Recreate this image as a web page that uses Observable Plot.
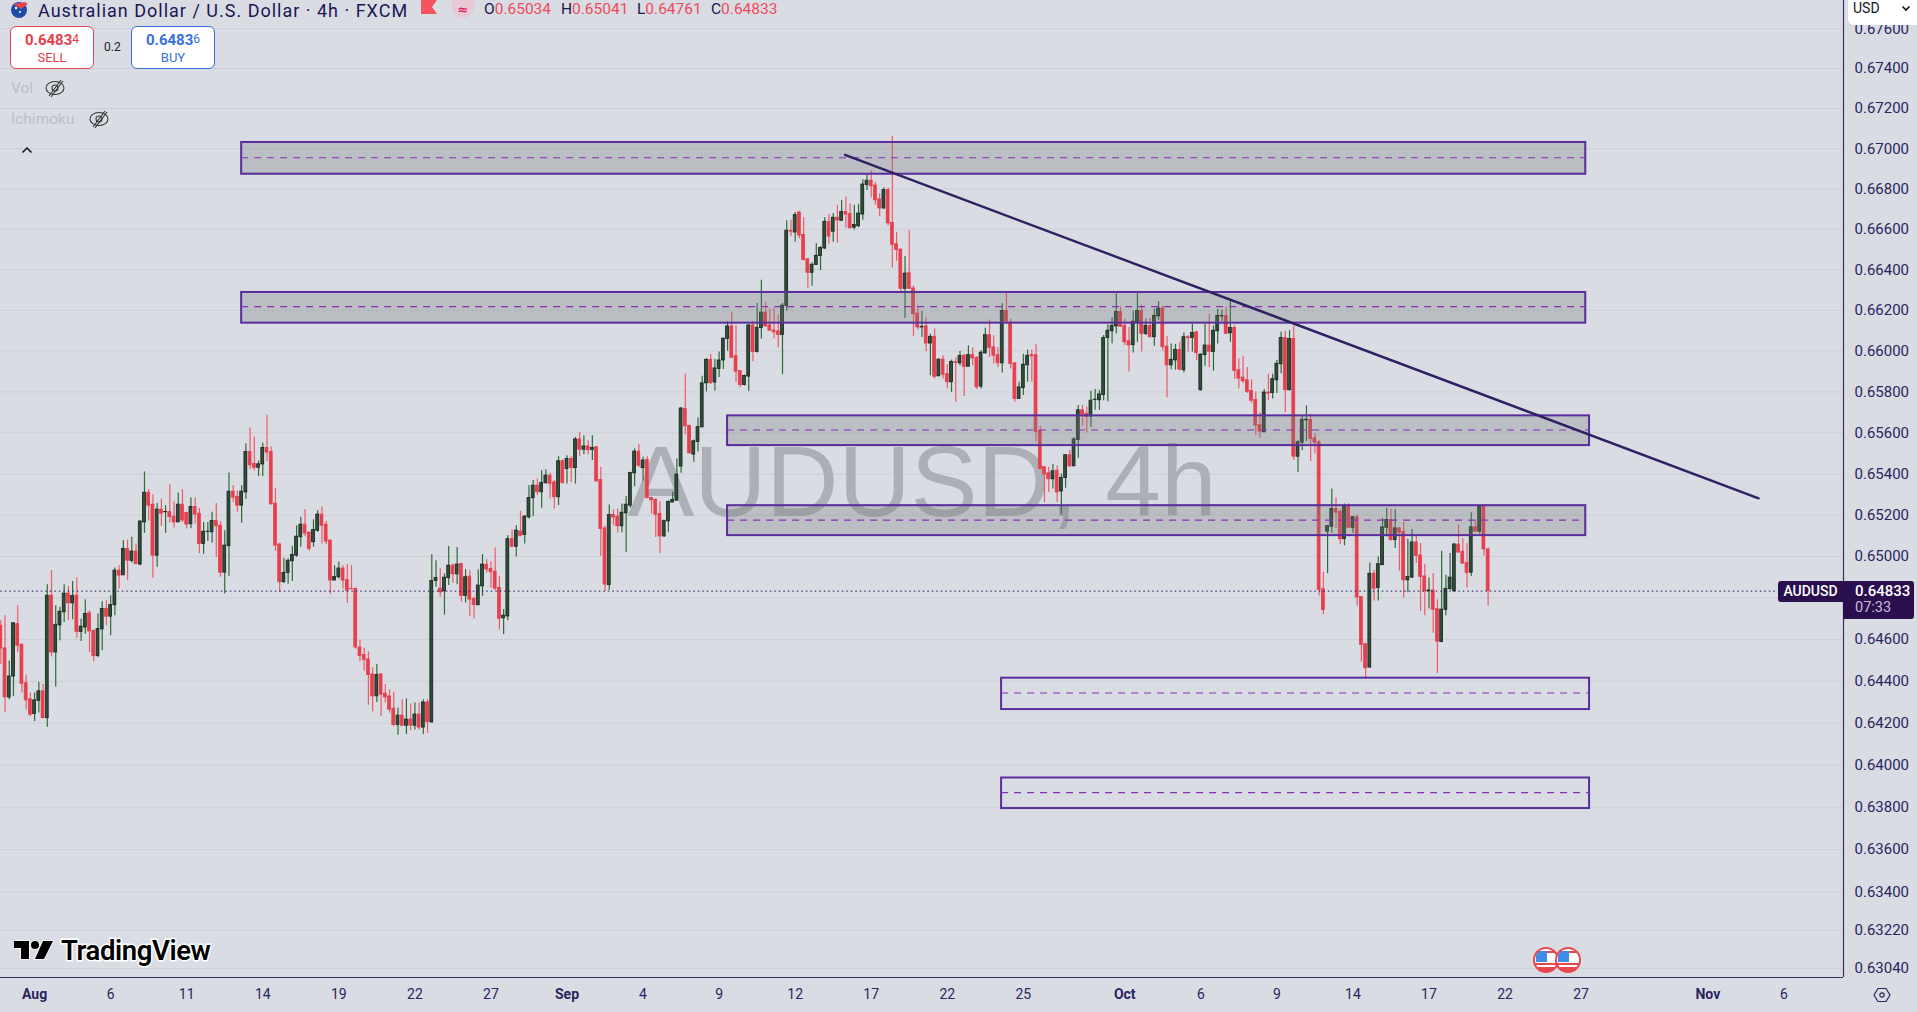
<!DOCTYPE html>
<html><head><meta charset="utf-8">
<script src="https://cdn.jsdelivr.net/npm/d3@7"></script>
<script src="https://cdn.jsdelivr.net/npm/@observablehq/plot@0.6"></script>
<style>
html,body{margin:0;padding:0;background:#d9dce3;overflow:hidden}
#wrap{position:relative;width:1917px;height:1012px;font-family:Roboto,sans-serif;overflow:hidden}
#wrap svg{display:block}
.o{position:absolute;white-space:nowrap;line-height:1}
.box{position:absolute;box-sizing:border-box;background:#fff;border-radius:6px;text-align:center}
sup{font-size:.8em;font-weight:400;line-height:0;vertical-align:.2em}
</style></head><body>
<div id="wrap"></div>
<script>
// prices in units of 0.00001
const opens=[64666,64558,64323,64423,64674,64575,64391,64314,64243,64306,
64352,64224,64811,64538,64668,64731,64821,64774,64811,64637,
64658,64726,64642,64521,64649,64747,64710,64765,64932,64909,
65037,64979,65024,64961,65165,65309,65251,65004,65227,65214,
65215,65193,65165,65251,65211,65156,65240,65207,65061,65119,
65117,65172,65149,64922,65050,65314,65289,65246,65310,65507,
65449,65430,65446,65526,65507,65256,65058,64876,64921,64977,
65004,65093,65154,65116,65069,65125,65203,65154,65077,64884,
64900,64942,64887,64843,64843,64562,64526,64505,64433,64328,
64433,64341,64328,64269,64191,64236,64188,64217,64188,64241,
64179,64299,64204,64882,64845,64832,64895,64956,64914,64964,
64810,64903,64795,64765,64856,64961,64940,64927,64848,64702,
64711,65084,65047,65121,65104,65189,65282,65343,65311,65355,
65392,65359,65287,65462,65424,65473,65428,65568,65518,65534,
65517,65530,65371,65136,64862,65201,65193,65146,65209,65246,
65403,65509,65428,65468,65283,65275,65206,65097,65170,65261,
65270,65436,65716,65635,65494,65556,65627,65842,65956,65846,
65912,65954,66059,66121,65975,65902,65834,65875,66126,65996,
66113,66189,66126,66101,66097,66079,66222,66593,66584,66683,
66572,66452,66385,66424,66468,66505,66637,66588,66657,66642,
66686,66676,66608,66615,66673,66820,66841,66817,66748,66703,
66794,66632,66526,66500,66306,66383,66308,66184,66116,66121,
66037,66070,65876,65958,65888,65847,65945,65940,65977,65923,
65980,65967,65826,65989,66078,66018,65980,65940,66197,66139,
65940,65765,65819,65930,65980,65980,65609,65433,65403,65374,
65416,65315,65380,65491,65437,65565,65710,65693,65680,65760,
65759,65784,66064,66097,66121,66192,66124,66048,66029,66140,
66197,66084,66124,66068,66170,66209,66022,65930,65954,66006,
65906,66068,66064,66092,65808,65980,66027,65996,66097,66170,
66173,66087,66113,65906,65870,65857,65804,65760,65638,65603,
65797,65794,65857,65935,66064,65808,66059,65484,65552,65661,
65663,65573,65554,64842,65120,65144,65230,65215,65084,65241,
65139,65190,64805,64578,64466,64917,64848,64958,65139,65177,
65079,65136,65118,64885,64898,65068,65005,64904,64833,64836,
64746,64588,64743,64843,64832,65058,65023,64969,64922,65141,
65120,65245,65034];
const highs=[64691,64715,64497,64682,64763,64581,64430,64343,64344,64396,
64385,64864,64932,64763,64755,64864,64855,64879,64898,64699,
64792,64739,64645,64723,64782,64787,64811,64945,64956,65077,
65080,65093,65061,65174,65410,65325,65299,65257,65278,65246,
65347,65265,65307,65323,65214,65283,65283,65233,65164,65165,
65214,65257,65169,65125,65405,65343,65318,65343,65547,65624,
65579,65463,65550,65686,65531,65331,65064,64992,64988,65050,
65148,65190,65227,65119,65177,65222,65241,65170,65080,64956,
64974,64956,64961,64956,64848,64597,64558,64541,64465,64481,
64436,64385,64360,64348,64272,64312,64315,64291,64296,64296,
64312,64312,65009,64980,64940,64916,65048,64964,65043,64967,
64937,64932,64803,64935,65009,64984,64975,65041,64903,64744,
65100,65128,65149,65219,65198,65343,65368,65376,65416,65421,
65403,65368,65484,65468,65489,65484,65578,65601,65586,65562,
65586,65533,65432,65147,65249,65225,65230,65254,65290,65408,
65521,65543,65481,65484,65287,65278,65266,65173,65270,65311,
65473,65724,65886,65635,65565,65672,65876,65964,65983,65959,
65996,66064,66145,66191,66126,65902,65883,66129,66145,66234,
66348,66239,66207,66210,66178,66234,66642,66645,66683,66689,
66657,66455,66434,66528,66515,66657,66673,66678,66719,66743,
66760,66727,66719,66724,66846,66877,66890,66833,66776,66805,
66804,67061,66584,66500,66466,66593,66319,66222,66194,66165,
66083,66108,65961,65977,65933,65956,65966,65998,65985,66026,
66015,65972,66002,66112,66153,66075,66018,66233,66282,66156,
65940,65847,65985,66005,66005,66034,65631,65436,65433,65446,
65439,65400,65495,65514,65576,65734,65734,65726,65803,65812,
65808,66076,66129,66165,66281,66217,66157,66116,66197,66283,
66226,66157,66160,66205,66243,66221,66071,66035,66032,66043,
66089,66076,66132,66097,65987,66132,66181,66124,66205,66200,
66217,66246,66124,65962,65974,65919,65860,65800,65698,65812,
65886,65886,65954,66092,66097,66100,66124,65562,65682,65731,
65690,65595,65561,64924,65147,65327,65285,65228,65254,65254,
65193,65201,64805,64582,64969,64934,64998,65185,65233,65228,
65228,65141,65164,65083,65131,65104,65063,64961,64896,64917,
64791,65026,64909,65015,65063,65152,65087,65063,65212,65177,
65246,65245,65041];
const lows=[64481,64251,64312,64328,64538,64344,64264,64232,64208,64248,
64220,64180,64517,64373,64594,64682,64691,64695,64607,64591,
64626,64538,64494,64513,64546,64666,64618,64715,64843,64908,
64884,64969,64961,64956,65112,65170,64895,64948,65145,65112,
65161,65138,65164,65165,65133,65135,65157,65013,65011,65072,
65064,64996,64900,64819,64905,65262,65214,65161,65277,65420,
65415,65388,65388,65460,65251,65025,64827,64871,64866,64880,
64996,65045,65096,65025,65045,65117,65061,65058,64818,64884,
64892,64843,64774,64840,64554,64494,64449,64285,64253,64299,
64232,64296,64248,64183,64142,64183,64146,64164,64167,64167,
64146,64151,64199,64852,64803,64718,64860,64871,64864,64779,
64776,64711,64700,64765,64808,64919,64847,64835,64647,64625,
64690,65044,64998,65095,65060,65181,65194,65295,65233,65351,
65279,65230,65246,65351,65351,65359,65351,65484,65494,65492,
65465,65359,65000,64830,64836,65149,65112,65115,65019,65235,
65338,65432,65364,65278,65206,65092,65014,65092,65117,65261,
65270,65403,65591,65497,65457,65507,65624,65800,65837,65805,
65870,65910,65999,65964,65846,65821,65829,65802,65948,65991,
66059,66116,66097,66061,66016,65884,66197,66564,66536,66553,
66442,66308,66319,66422,66396,66499,66526,66536,66531,66641,
66605,66600,66597,66608,66645,66792,66755,66719,66662,66699,
66618,66409,66442,66287,66161,66303,66070,66103,66067,65998,
65879,65863,65876,65863,65817,65798,65749,65928,65778,65923,
65928,65811,65814,65985,65969,65936,65920,65892,66140,65912,
65749,65764,65782,65847,65847,65555,65420,65261,65310,65327,
65261,65204,65330,65433,65436,65477,65633,65599,65628,65710,
65710,65757,65752,66035,66084,66116,66027,65897,65990,66043,
65995,66076,66064,66024,66149,66000,65771,65909,65906,65902,
65893,65995,65995,65954,65805,65925,65919,65902,66035,66145,
66081,66043,65860,65816,65841,65792,65744,65586,65573,65601,
65757,65765,65792,65889,65698,65805,65465,65407,65514,65557,
65460,65497,64810,64718,64917,65112,65136,65058,65052,65136,
65112,64760,64491,64410,64462,64785,64785,64958,65096,65075,
65039,64930,64801,64825,64895,64966,64736,64715,64747,64630,
64438,64585,64715,64836,64828,65015,64961,64848,64904,65117,
65109,65003,64761];
const closes=[64557,64323,64423,64678,64570,64388,64309,64240,64309,64352,
64224,64811,64538,64671,64734,64821,64774,64810,64637,64662,
64723,64639,64521,64650,64747,64710,64766,64932,64908,65037,
64980,65024,64963,65169,65309,65246,65004,65227,65207,65215,
65190,65165,65251,65174,65154,65240,65203,65061,65120,65120,
65172,65146,64922,65053,65314,65285,65246,65314,65507,65442,
65430,65447,65526,65504,65252,65053,64876,64921,64980,65008,
65096,65154,65111,65037,65128,65203,65149,65072,64884,64901,
64942,64884,64835,64842,64562,64521,64502,64430,64328,64430,
64336,64323,64264,64191,64236,64188,64217,64188,64241,64179,
64299,64204,64882,64897,64827,64898,64956,64914,64961,64810,
64900,64792,64766,64860,64961,64937,64924,64845,64700,64715,
65084,65047,65125,65100,65193,65283,65343,65311,65356,65392,
65351,65287,65462,65355,65473,65429,65568,65518,65534,65515,
65526,65364,65133,64865,65201,65189,65146,65212,65251,65405,
65509,65440,65465,65283,65272,65202,65097,65173,65264,65274,
65397,65719,65632,65500,65559,65628,65842,65956,65842,65915,
65954,66061,66121,65967,65899,65833,65878,66126,65996,66114,
66189,66121,66100,66092,66079,66223,66593,66588,66670,66569,
66448,66385,66425,66469,66507,66637,66564,66657,66644,66686,
66673,66605,66621,66678,66822,66841,66813,66743,66703,66794,
66629,66523,66497,66306,66381,66306,66181,66116,66119,66037,
66070,65874,65958,65884,65847,65946,65941,65976,65923,65980,
65964,65822,65992,66078,66015,65977,65940,66197,66145,65936,
65765,65822,65933,65977,65974,65604,65424,65397,65374,65413,
65310,65380,65491,65437,65568,65710,65690,65677,65757,65762,
65788,66064,66100,66124,66192,66119,66043,66027,66144,66197,
66084,66124,66068,66173,66209,66019,65930,65957,66006,65909,
66068,66063,66089,65990,65983,66027,65996,66100,66173,66173,
66084,66113,65902,65865,65852,65800,65757,65635,65606,65797,
65792,65862,65938,66064,65808,66059,65484,65554,65663,65664,
65570,65552,64838,64742,65147,65230,65212,65083,65241,65139,
65190,64802,64574,64462,64917,64844,64963,65141,65177,65079,
65136,65115,64885,64901,65068,65002,64901,64832,64836,64743,
64590,64744,64844,64898,65058,65019,64966,64921,65141,65120,
65245,65034,64833];
const tickBars=[8,26,44,62,80,98,116,134,152,170,188,206,224,242,266,284,302,320,338,356,374,404,422];
const tickLabels=["Aug","6","11","14","19","22","27","Sep","4","9","12","17","22","25","Oct","6","9","14","17","22","27","Nov","6"];
const monthLabels=["Aug","Sep","Oct","Nov"];
const priceTicks=[0.676,0.674,0.672,0.670,0.668,0.666,0.664,0.662,0.660,0.658,0.656,0.654,0.652,0.650,0.646,0.644,0.642,0.640,0.638,0.636,0.634,0.6322,0.6304];
const gridTicks=[0.676,0.674,0.672,0.670,0.668,0.666,0.664,0.662,0.660,0.658,0.656,0.654,0.652,0.650,0.648,0.646,0.644,0.642,0.640,0.638,0.636,0.634,0.6322,0.6304];
const zoneStart=[57,57,172,172,236.85,236.85];
const zoneEnd=[375.1,375.1,376,375.1,376,376];
const zoneTop=[67031,66288,65683,65246,64415,63939];
const zoneBottom=[66873,66137,65538,65101,64265,63794];
const zoneMid=[66955,66218,65614,65176,64344,63869];
const zoneFilled=[true,true,true,true,false,false];
const trendBars=[199.8,416];
const trendPrices=[66969,65282];
const lastPrice=0.64833;

const P=v=>v/1e5;
const candles=opens.map((o,k)=>({k,o:P(o),h:P(highs[k]),l:P(lows[k]),c:P(closes[k]),up:closes[k]>=o}));
const ups=candles.filter(d=>d.up), downs=candles.filter(d=>!d.up);
const zones=zoneStart.map((s,i)=>({s,e:zoneEnd[i],t:P(zoneTop[i]),b:P(zoneBottom[i]),m:P(zoneMid[i]),f:zoneFilled[i]}));
const trend=trendBars.map((x,i)=>({x,y:P(trendPrices[i])}));
const tick=new Map(tickBars.map((b,i)=>[b,tickLabels[i]]));
const INK="#2a2560";

const chart=Plot.plot({
  width:1917,height:1012,marginLeft:0,marginRight:74,marginTop:0,marginBottom:35,
  style:{background:"transparent",fontFamily:"Roboto,sans-serif"},
  x:{type:"linear",domain:[0,436.1],range:[0.3,1843]},
  y:{type:"log",domain:[0.62998,0.67742],range:[977,0]},
  marks:[
    Plot.gridY(gridTicks,{stroke:"#cdd0d6",strokeOpacity:1,strokeWidth:1}),
    Plot.text(["AUDUSD, 4h"],{x:148.3,y:P(65198),fontSize:100,fontFamily:"Liberation Sans",fill:"#adafb7",textAnchor:"start",lineAnchor:"bottom"}),
    Plot.ruleX(ups,{x:"k",y1:"l",y2:"h",stroke:"#2e6b38",strokeWidth:1.2}),
    Plot.ruleX(downs,{x:"k",y1:"l",y2:"h",stroke:"#ee5a68",strokeWidth:1.2}),
    Plot.rect(ups,{x1:d=>d.k-.34,x2:d=>d.k+.34,y1:"o",y2:"c",fill:"#2f4d3a",stroke:"#16241b",strokeWidth:.8}),
    Plot.rect(downs,{x1:d=>d.k-.34,x2:d=>d.k+.34,y1:"o",y2:"c",fill:"#e63f4e",stroke:"#e63f4e",strokeWidth:.8}),
    Plot.ruleY([lastPrice],{x1:0,x2:420.7,stroke:"#1e1450",strokeWidth:1,strokeDasharray:"1.5,3"}),
    Plot.rect(zones,{x1:"s",x2:"e",y1:"b",y2:"t",fill:d=>d.f?"rgb(120,122,120)":"none",fillOpacity:.3,stroke:"#5a2d9c",strokeWidth:2}),
    Plot.ruleY(zones,{x1:"s",x2:"e",y:"m",stroke:"#8a2fb5",strokeWidth:1.2,strokeDasharray:"7,6"}),
    Plot.line(trend,{x:"x",y:"y",stroke:"#2f1f63",strokeWidth:2.4}),
    Plot.ruleX([436.1],{stroke:"#35305f",strokeWidth:1.2}),
    Plot.ruleY([0.62998],{stroke:"#35305f",strokeWidth:1.2}),
    Plot.axisY({anchor:"right",ticks:priceTicks,tickSize:0,tickPadding:11,fontSize:15,color:INK,label:null,tickFormat:d=>d.toFixed(5)}),
    Plot.axisX({ticks:tickBars.filter(b=>!monthLabels.includes(tick.get(b))),tickSize:0,tickPadding:12,fontSize:14,color:INK,label:null,tickFormat:b=>tick.get(b)}),
    Plot.axisX({ticks:tickBars.filter(b=>monthLabels.includes(tick.get(b))),tickSize:0,tickPadding:12,fontSize:14,fontWeight:700,color:INK,label:null,tickFormat:b=>tick.get(b)})
  ]
});
const wrap=document.getElementById("wrap");
wrap.appendChild(chart);
const yLast=chart.scale("y").apply(lastPrice);
const eye=`<svg width="24" height="24" viewBox="0 0 24 24" fill="none" stroke="#333" stroke-width="1.05"><ellipse cx="12" cy="12" rx="9" ry="6.5"/><circle cx="12" cy="12" r="3"/><path d="M18 4 6 20"/><path d="M20 5 8 21"/></svg>`;
const flag=(cx)=>`<div class="o" style="left:${cx-13}px;top:947px;width:26px;height:26px;border-radius:50%;border:2.5px solid #e8474f;box-sizing:border-box;background:linear-gradient(#fff 0 8%,#e8474f 8% 16%,#fff 16% 62%,#e8474f 62% 72%,#fff 72% 84%,#e8474f 84%);overflow:hidden"><div style="position:absolute;left:1px;top:2px;width:11px;height:11px;background:#3f8be8"></div></div>`;
const html=`
<svg class="o" style="left:11px;top:0" width="18" height="18" viewBox="0 0 18 18"><circle cx="8" cy="10" r="8" fill="#1f4aa8"/><path d="M2 4 L14 2 L17 4 L10 9 Z" fill="#e8474f"/><circle cx="9" cy="12" r="1" fill="#fff"/><circle cx="5" cy="8" r="1.2" fill="#fff"/></svg>
<div class="o" style="left:38px;top:0;font-family:Roboto,sans-serif;font-size:18px;line-height:normal;letter-spacing:1px;color:#1c1553">Australian Dollar / U.S. Dollar · 4h · FXCM</div>
<svg class="o" style="left:421px;top:0" width="16" height="14" viewBox="0 0 16 14"><path d="M0 0H16L11 7L16 14H0Z" fill="#f7525f"/></svg>
<div class="o" style="left:452px;top:0;width:22px;height:18px;border-radius:0 0 11px 11px;background:#e8c9d6"></div>
<div class="o" style="left:452px;top:0;width:22px;font-family:'DejaVu Sans',sans-serif;color:#e0245e;font-size:13px;text-align:center;line-height:20px;font-weight:700">≈</div>
${[["O","0.65034",484],["H","0.65041",561],["L","0.64761",637],["C","0.64833",711]].map(([a,b,x])=>`<div class="o" style="left:${x}px;top:0;font-size:15.5px;line-height:18px;color:#1c1553">${a}<span style="color:#f04a5c">${b}</span></div>`).join("")}
<div class="box" style="left:10px;top:26px;width:84px;height:43px;border:1px solid #e5434f;color:#e53e4d;padding-top:5px"><div style="font-size:15px;font-weight:700;line-height:17px">0.6483<sup>4</sup></div><div style="font-size:13px;line-height:17px">SELL</div></div>
<div class="o" style="left:104px;top:41px;font-size:12px;color:#222">0.2</div>
<div class="box" style="left:131px;top:26px;width:84px;height:43px;border:1px solid #3a6fd8;color:#3a6fd8;padding-top:5px"><div style="font-size:15px;font-weight:700;line-height:17px">0.6483<sup>6</sup></div><div style="font-size:13px;line-height:17px">BUY</div></div>
<div class="o" style="left:11px;top:81px;font-size:15.5px;color:#bcbfc5">Vol</div>
<div class="o" style="left:43px;top:76px">${eye}</div>
<div class="o" style="left:11px;top:112px;font-size:15.5px;color:#bcbfc5">Ichimoku</div>
<div class="o" style="left:87px;top:107px">${eye}</div>
<svg class="o" style="left:21px;top:146px" width="12" height="8" viewBox="0 0 12 8" fill="none" stroke="#111" stroke-width="1.5"><path d="M1.5 6.5 6 2l4.5 4.5"/></svg>
<div class="o" style="left:1848px;top:0;width:69px;height:25px;background:#fff;border-radius:0 0 0 6px"></div>
<div class="o" style="left:1853px;top:1px;font-size:14px;color:#131722">USD</div>
<svg class="o" style="left:1901px;top:5px" width="10" height="7" viewBox="0 0 10 7" fill="none" stroke="#111" stroke-width="1.6"><path d="M1.5 1.5 5 5l3.5-3.5"/></svg>
<div class="o" style="left:1778px;top:${yLast-10}px;width:65px;height:21px;background:#2a0f4f;border-radius:3px 0 0 3px;color:#fff;font-size:14px;line-height:21px;text-align:center;font-weight:500">AUDUSD</div>
<div class="o" style="left:1843px;top:${yLast-10}px;width:71px;height:38px;background:#2a0f4f;border-radius:0 3px 3px 0"></div>
<div class="o" style="left:1855px;top:${yLast-7}px;font-size:15px;color:#fff;font-weight:500">0.64833</div>
<div class="o" style="left:1855px;top:${yLast+10}px;font-size:14.5px;color:#c9bcd9">07:33</div>
<svg class="o" style="left:14px;top:939px" width="40" height="22" viewBox="0 0 40 22"><path d="M0 2H15V20H7V9H0Z" fill="#000" stroke="#fff" stroke-width="1.5" paint-order="stroke"/><circle cx="21" cy="6" r="4" fill="#000" stroke="#fff" stroke-width="1.5" paint-order="stroke"/><path d="M29 2H39L30 20H21Z" fill="#000" stroke="#fff" stroke-width="1.5" paint-order="stroke"/></svg>
<div class="o" style="left:61px;top:937px;font-size:27.5px;font-weight:600;color:#000;-webkit-text-stroke:3px #fff;paint-order:stroke fill;letter-spacing:-.4px">TradingView</div>
${flag(1546)}${flag(1568)}
<svg class="o" style="left:1873px;top:986px" width="18" height="18" viewBox="0 0 18 18" fill="none" stroke="${INK}" stroke-width="1.2"><path d="M1 9 5 2.5h8L17 9l-4 6.5H5Z"/><circle cx="9" cy="9" r="2.2"/></svg>`;
wrap.insertAdjacentHTML("beforeend",html);
</script>
</body></html>
